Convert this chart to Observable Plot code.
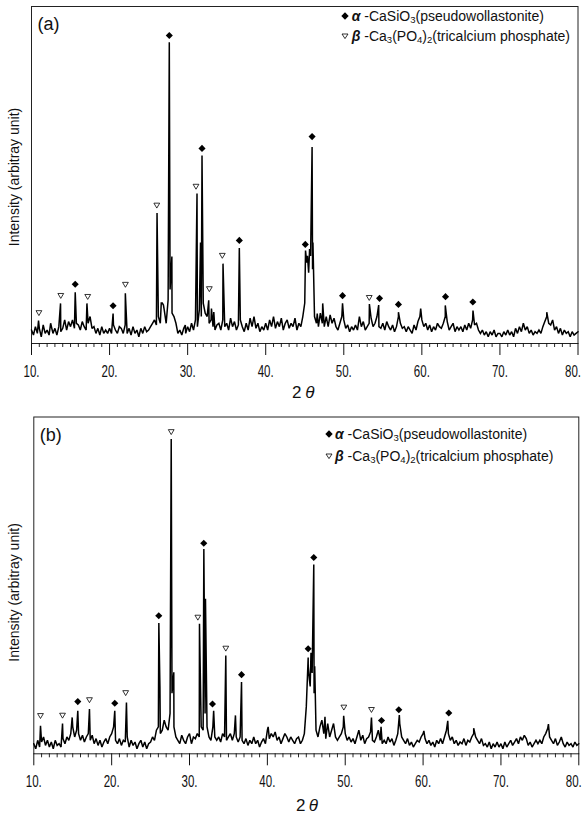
<!DOCTYPE html>
<html>
<head>
<meta charset="utf-8">
<script src="https://cdn.jsdelivr.net/npm/d3@7"></script>
<script src="https://cdn.jsdelivr.net/npm/@observablehq/plot@0.6"></script>
<style>
  html, body { margin: 0; padding: 0; background: #fff; }
  #wrap { position: relative; width: 588px; height: 814px; overflow: hidden; font-family: "Liberation Sans", Arial, sans-serif; color: #111; }
  .panel { position: absolute; left: 0; }
  .leg { position: absolute; font-size: 14px; line-height: 14px; white-space: nowrap; color: #111; }
  .leg sub { font-size: 0.68em; position: relative; top: 0.2em; vertical-align: baseline; line-height: 0; }
  .leg .g { font-style: italic; font-weight: bold; }
  .sym { position: absolute; }
</style>
</head>
<body>
<div id="wrap"></div>
<script>
// ---------- DATA ----------
const ticksMajor = [10, 20, 30, 40, 50, 60, 70, 80];
const ticksMinor = [11,12,13,14,15,16,17,18,19,21,22,23,24,25,26,27,28,29,31,32,33,34,35,36,37,38,39,
  41,42,43,44,45,46,47,48,49,51,52,53,54,55,56,57,58,59,61,62,63,64,65,66,67,68,69,71,72,73,74,75,76,77,78,79];
const baseStart = 10, baseStep = 0.25;

// panel (a): background trace sampled every 0.25 deg from 10 to 80
const baselineA = [
  4,2.5,5,3,4.5,2,5.5,3,4,2.5,5.5,3,4.5,2.5,5,3.5,4.5,7,4,6.5,
  5,7,4.5,6,5.5,4,6.5,5,4,6,8,4.5,5,3,4.5,2.5,5,3,4,3,
  4.5,3,5.5,4,3,5,4.5,3,5.5,3,4.5,2.5,5,3,4,2,4.5,3,5,3.5,
  4,5,6,7,5.5,8,6,12,10,6,13,16,9,8,6,3,4,2.5,4.5,3,
  5,3.5,6,4,7,5,10,8,12,9,8,6,7,5,4,5.5,6,4,7,5,
  6,4,7.5,5,6.5,4,5.5,7,5,3.5,6,4,7.5,5,8,4.5,6,3.5,5,4,
  6,4,7,5,8,4.5,6.5,5,7.5,4,6,7,4.5,6,5,7.5,4,6,5,8,
  12,24,21,26,22,8,6,5,9,6,5,8,5,8.5,6,7.5,5,4,6,8,
  7,4.5,5.5,3.5,5,4,5.5,4,8,5,6.5,4,5,6,7.5,5,6,8,5,4.5,
  6,4,6.5,5,4,5.5,3.5,5,8,6,4.5,5,3.5,5,4,3,5.5,4,6.5,8,
  7,5,6,4,5.5,3.5,5,4,6,5,4.5,6,8,6.5,4,5,6,3.5,5,4,
  5,3.5,5.5,4,6,4.5,7,5.5,6,4,3,4,2.5,3.5,2,3.5,2.5,4,2,3,
  3,2,3.5,2.5,4,2.5,3.5,2,4.5,3,5,3.5,6,4,5,3,4,2.5,3.5,3,
  4,3,5,6.5,8,6,5.5,7,4,5,3,4.5,2.5,4,3,3.5,2,3.5,2.5,3,3.5
];
// panel (a): peak apexes [2theta, intensity]
const peaksA = [
  [10.9,6.8],[12.45,6],[13.72,11.9],[15.6,15.2],[17.1,11.9],[20.45,8.9],[22.02,14.9],
  [26.08,38.7],[26.62,12],[26.9,11.4],[27.65,89.4],[27.98,25.8],[29.7,5.5],
  [31.2,44.5],[31.65,30],[31.84,55.8],[32.7,12.8],[33.05,10.4],[33.35,9.3],[34.53,23.7],[36.62,28.3],
  [45.1,27.6],[45.35,26],[45.62,28],[45.94,58.3],[46.05,30],[46.6,8.9],[47.3,11.9],
  [49.84,11.9],[53.28,11.7],[54.47,11.4],[57.0,9.3],[59.85,10.4],[63.0,11.3],[66.55,9.8],[76.0,9.3]
];
const alphaA = [[15.6,17.6],[20.45,11.2],[27.65,91.4],[31.84,57.9],[36.62,30.6],[45.07,29.4],[45.94,61.4],
  [49.84,14.2],[54.58,13.4],[57.0,11.6],[63.03,13.9],[66.53,12.3]];
const betaA = [[10.95,9.1],[13.75,14.2],[17.2,13.9],[22.03,17.5],[26.05,41],[31.07,46.6],[32.78,16.2],[34.44,26.1],[53.26,13.6]];

// panel (b)
const baselineB = [
  3,1.5,4,2,3.5,5,2.5,4,2,3.5,1.5,4,2.5,3,2,4.5,3,5,4,6,
  8,5,7,6,4,5.5,3.5,5,6,4,5.5,3,4.5,2.5,4,2,3.5,4.5,3,5,
  6,8,4,3,4.5,2.5,4,3.5,5,2,4,2.5,3.5,1.5,3,4,2,3.5,1.5,3,
  3.5,5,4,7,8,6,7,10,8,7,12,18,8,5,4,3,5.5,4,3,5,
  6,3,5,4.5,6,5,8,7,12,8,5,4,8,5,4,5,3.5,6,5,4,
  5,6,4,6,5,3.5,5,4,3,4.5,2.5,4,3,5,3,4,2,3.5,4.5,3,
  7,4.5,6,5,6.5,4,5,3,4.5,6,5,3.5,5,4,3,4.5,5,3,4,6,
  14,26,20,24,18,7,5,8,10,6,4.5,9,5,7,9,5,4,5,6,8,
  6,4,5,3.5,4.5,3,5,7,4,5.5,3,4.5,5,6.5,4,3.5,5,7,4,3,
  4,3,5,3.5,4.5,2.5,4,6,9,5,4,3,4.5,2.5,3.5,2,3,4,3.5,5,
  6,4.5,3,4,2.5,3.5,2,4,3,4.5,3,5,7,6,4,5,3,4,2.5,3.5,
  3,4.5,2.5,4,3.5,5,6,5,4,3,4.5,2.5,3,2,3.5,1.5,3,2,3.5,2,
  3,1.5,3.5,2,3,4,2.5,3.5,4.5,3,5,4,5.5,4.5,2.5,3.5,2,3,4,3,
  4,3,5,6,7.5,5,4,3,4.5,2.5,3.5,5,3,2,3.5,2.5,3,2,3.5,2.5,3
];
const peaksB = [
  [10.86,8.3],[13.69,9],[14.93,10.8],[15.65,12.8],[17.15,13.3],[20.4,12.8],[21.9,15.2],
  [26.06,38.8],[26.2,20],[27.65,93.5],[27.98,24.2],
  [31.28,38.6],[31.84,60.8],[32.05,46],[33.1,12.8],[34.66,29.2],[35.9,11.4],[36.68,21.3],[40.1,8],
  [45.24,28.6],[45.4,22],[45.6,30],[45.96,56.2],[46.08,26],[47.4,11],[49.8,11.3],
  [53.37,10.8],[54.6,8],[56.95,11.5],[60.1,6.8],[63.17,9.8],[66.5,7.6],[76.1,8.8]
];
const alphaB = [[15.65,15.5],[20.4,15.0],[26.05,41.0],[31.83,62.5],[32.95,14.8],[36.68,23.5],[45.24,31.2],
  [45.96,58.3],[54.66,9.9],[56.88,13.1],[63.3,12.1]];
const betaB = [[10.86,11.3],[13.69,11.4],[17.15,16.0],[21.8,18.1],[27.65,95.6],[31.07,40.5],[34.66,31.3],[49.82,13.8],[53.37,13.1]];

const yLabel = "Intensity (arbitray unit)";
const panelTags = ["(a)", "(b)"];
const legendGreek = ["α", "β"];
const legendHtml = ["-CaSiO<sub>3</sub>(pseudowollastonite)", "-Ca<sub>3</sub>(PO<sub>4</sub>)<sub>2</sub>(tricalcium phosphate)"];

// ---------- DRAW ----------
const triangleDown = {
  draw(ctx, size) {
    const r = Math.sqrt(size / Math.PI);
    ctx.moveTo(-r, -r * 0.75);
    ctx.lineTo(r, -r * 0.75);
    ctx.lineTo(0, r * 0.95);
    ctx.closePath();
  }
};

function trace(base, peaks) {
  return base.map((v, i) => ({x: baseStart + i * baseStep, y: v}))
    .concat(peaks.map(([x, y]) => ({x, y})))
    .sort((a, b) => a.x - b.x);
}

function panel(cfg) {
  return Plot.plot({
    width: 588, height: cfg.height,
    marginTop: cfg.mt, marginBottom: cfg.mb, marginLeft: cfg.ml, marginRight: cfg.mr,
    x: {domain: [10, 80], label: null},
    y: {domain: [0, 100], axis: null},
    style: {fontFamily: "'Liberation Sans', Arial, sans-serif", fontSize: "14px", background: "transparent", color: "#111", overflow: "visible"},
    marks: [
      Plot.frame({stroke: "#222", strokeWidth: 1}),
      Plot.axisX(ticksMinor, {tickSize: 4, tickFormat: () => "", label: null, strokeWidth: 0.9}),
      Plot.axisX(ticksMajor, {tickSize: 12, tickPadding: 10, tickFormat: d => d + ".", label: null,
        fontSize: 16, strokeWidth: 1}),
      Plot.line(trace(cfg.base, cfg.peaks), {x: "x", y: "y", stroke: "#000", strokeWidth: 1.5, strokeLinejoin: "miter", strokeMiterlimit: 2}),
      Plot.dot(cfg.alpha, {x: d => d[0], y: d => d[1], symbol: "diamond2", r: 3.2, fill: "#000"}),
      Plot.dot(cfg.beta, {x: d => d[0], y: d => d[1], symbol: triangleDown, r: 2.9, fill: "#fff", stroke: "#000", strokeWidth: 0.8}),
      Plot.text([cfg.tag], {frameAnchor: "top-left", dx: 6, dy: cfg.tagDy, fontSize: 18, textAnchor: "start", lineAnchor: "top"}),
      Plot.text([yLabel], {frameAnchor: "left", rotate: -90, dx: cfg.ylDx, dy: cfg.ylDy, fontSize: 14, textAnchor: "middle"}),
      Plot.text(["2"], {frameAnchor: "bottom", dx: cfg.twoDx, dy: cfg.thDy, fontSize: 17, lineAnchor: "top", textAnchor: "middle"}),
      Plot.text(["θ"], {frameAnchor: "bottom", dx: cfg.thDx, dy: cfg.thDy, fontSize: 17, lineAnchor: "top", textAnchor: "middle", fontStyle: "italic"})
    ]
  });
}

// condense the tick labels like the narrow typeface of the original; keep the last one inside the page
function condenseTicks(svg) {
  const labels = d3.select(svg).selectAll('g[aria-label="x-axis tick label"] text')
    .filter(function() { return this.textContent.length > 0; })
    .attr("textLength", 16).attr("lengthAdjust", "spacingAndGlyphs");
  labels.filter(function() { return this.textContent === "80."; }).attr("dx", -5);
}

const wrap = document.getElementById("wrap");

const pa = panel({height: 400, mt: 6, mb: 57, ml: 31, mr: 10.5, base: baselineA, peaks: peaksA, alpha: alphaA, beta: betaA,
  tag: panelTags[0], tagDy: 10.5, ylDx: -17, ylDy: 2, twoDx: -8, thDx: 5, thDy: 42});
pa.classList.add("panel"); pa.style.top = "0px";
wrap.appendChild(pa);
condenseTicks(pa);

const pb = panel({height: 404, mt: 6.5, mb: 60.7, ml: 33.3, mr: 9.7, base: baselineB, peaks: peaksB, alpha: alphaB, beta: betaB,
  tag: panelTags[1], tagDy: 11.5, ylDx: -19, ylDy: 7, twoDx: -5.5, thDx: 7, thDy: 44.7});
pb.classList.add("panel"); pb.style.top = "410px";
wrap.appendChild(pb);
condenseTicks(pb);

// legends (HTML overlay)
function legend(symX, textX, baselines) {
  baselines.forEach((b, i) => {
    const s = document.createElementNS("http://www.w3.org/2000/svg", "svg");
    s.setAttribute("class", "sym");
    s.setAttribute("width", 10); s.setAttribute("height", 10);
    s.style.left = (symX - 5) + "px"; s.style.top = (b - 5 - 5) + "px";
    s.innerHTML = i === 0
      ? '<polygon points="5,1.3 8.7,5 5,8.7 1.3,5" fill="#000"/>'
      : '<polygon points="2,3 8,3 5,7.6" fill="#fff" stroke="#000" stroke-width="0.8"/>';
    wrap.appendChild(s);
    const d = document.createElement("div");
    d.className = "leg";
    d.style.left = textX + "px";
    d.style.top = (b - 11.85) + "px";
    d.innerHTML = '<span class="g">' + legendGreek[i] + '</span> ' + legendHtml[i];
    wrap.appendChild(d);
  });
}
legend(345, 351.7, [20.7, 41]);
legend(328.5, 335, [438.5, 460.5]);
</script>
</body>
</html>
